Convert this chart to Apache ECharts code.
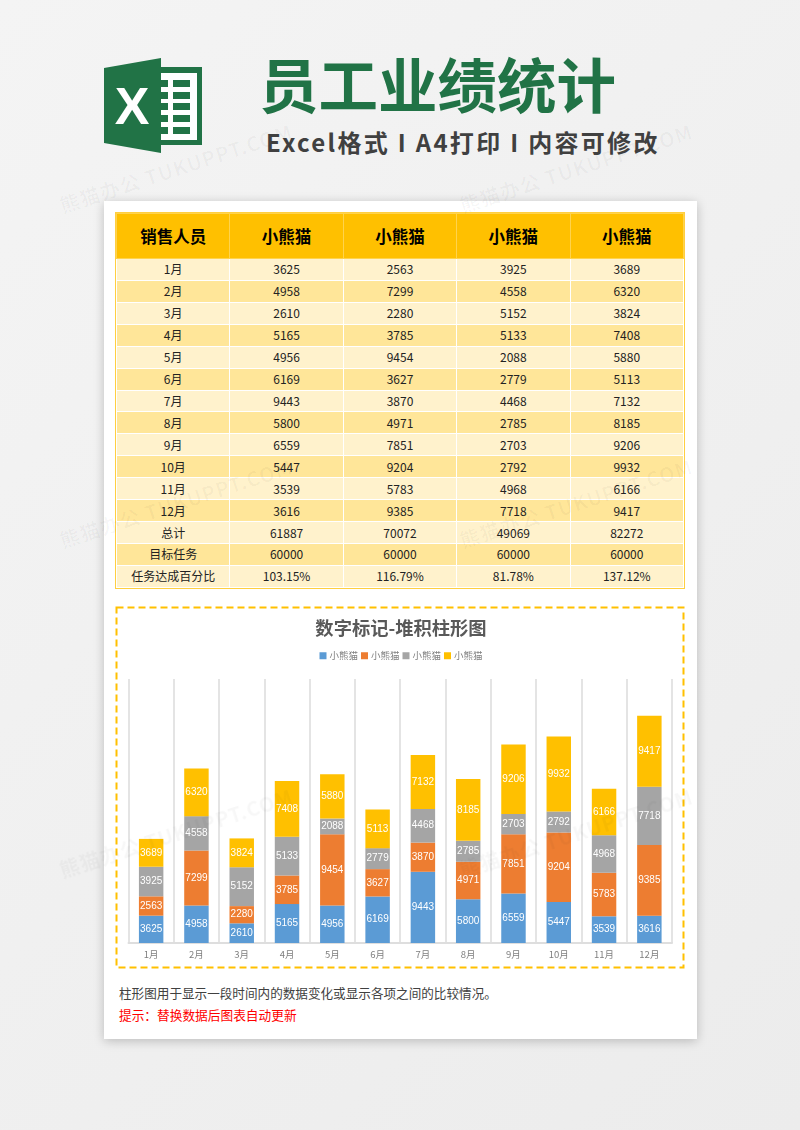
<!DOCTYPE html>
<html>
<head>
<meta charset="utf-8">
<title>员工业绩统计</title>
<script src="https://cdn.jsdelivr.net/npm/echarts@6/dist/echarts.min.js"></script>
<style>
  html, body { margin: 0; padding: 0; }
  body { width: 800px; height: 1130px; position: relative; overflow: hidden;
         background: linear-gradient(135deg, #f4f4f4, #ececec);
         font-family: "Noto Sans CJK SC", "Noto Sans", sans-serif; }
  .abs { position: absolute; white-space: nowrap; }
  #title { left: 259px; top: 40px; font-size: 59.5px; line-height: 84px; font-weight: 700; color: #217346; }
  #subtitle { left: 266px; top: 123px; font-size: 24px; line-height: 38px; font-weight: 700; color: #404040; letter-spacing: 2.3px; }
  #card { left: 104px; top: 201px; width: 593px; height: 838px; background: #fff; box-shadow: 0 2px 10px rgba(0,0,0,.22); }
  #sheet { left: 116px; top: 213px; width: 568px; border-collapse: collapse; table-layout: fixed;
           box-shadow: 0 0 0 1px #ffcf40; }
  #sheet td, #sheet th { padding: 0; text-align: center; border: 1px solid #fff; color: #222; font-size: 12px; font-weight: 400; line-height: 1; overflow: hidden; }
  #sheet th { background: #ffc000; color: #000; font-size: 16.5px; font-weight: 700; height: 44px; border-color: #ffd34d; }
  #sheet tr.light td { background: #fff2cc; height: 20.93px; }
  #sheet tr.dark td { background: #ffe699; height: 20.93px; }
  #chart { left: 106px; top: 600px; width: 590px; height: 375px; }
  #note { left: 119px; top: 983px; font-size: 12.6px; line-height: 19px; color: #404040; }
  #tip { left: 119px; top: 1005px; font-size: 12.7px; line-height: 19px; color: #ff0000; }
  .mark { font-size: 20px; font-weight: 700; letter-spacing: 1px; color: rgba(0,0,0,.03); transform: rotate(-18deg); transform-origin: left center; pointer-events: none; }
</style>
</head>
<body>
<div id="card" class="abs"></div>

<svg class="abs" style="left:0;top:0" width="800" height="200">
  <rect x="161" y="67" width="41" height="78" fill="#217346"/>
  <rect x="161" y="73" width="36" height="67" fill="#fff"/>
  <g fill="#217346">
    <rect x="173" y="80" width="17" height="7"/><rect x="161" y="80" width="7" height="7"/>
    <rect x="173" y="92" width="17" height="7"/><rect x="161" y="92" width="7" height="7"/>
    <rect x="173" y="103" width="17" height="7"/><rect x="161" y="103" width="7" height="7"/>
    <rect x="173" y="115" width="17" height="7"/><rect x="161" y="115" width="7" height="7"/>
    <rect x="173" y="127" width="17" height="7"/><rect x="161" y="127" width="7" height="7"/>
  </g>
  <polygon points="104,68 161,58 161,153 104,143" fill="#217346"/>
  <text x="132" y="124" text-anchor="middle" font-family="Liberation Sans" font-weight="700" font-size="52" fill="#fff">X</text>
</svg>

<div id="title" class="abs">员工业绩统计</div>
<div id="subtitle" class="abs">Excel格式 I A4打印 I 内容可修改</div>

<table id="sheet" class="abs"></table>
<div id="chart" class="abs"></div>
<div id="note" class="abs">柱形图用于显示一段时间内的数据变化或显示各项之间的比较情况。</div>
<div id="tip" class="abs">提示：替换数据后图表自动更新</div>

<script>
const months = ['1月', '2月', '3月', '4月', '5月', '6月', '7月', '8月', '9月', '10月', '11月', '12月'];
const firstCol = [3625, 4958, 2610, 5165, 4956, 6169, 9443, 5800, 6559, 5447, 3539, 3616];
const secondCol = [2563, 7299, 2280, 3785, 9454, 3627, 3870, 4971, 7851, 9204, 5783, 9385];
const thirdCol = [3925, 4558, 5152, 5133, 2088, 2779, 4468, 2785, 2703, 2792, 4968, 7718];
const fourthCol = [3689, 6320, 3824, 7408, 5880, 5113, 7132, 8185, 9206, 9932, 6166, 9417];
const person = '小熊猫';
const totals = [61887, 70072, 49069, 82272];
const targets = [60000, 60000, 60000, 60000];
const percents = ['103.15%', '116.79%', '81.78%', '137.12%'];
const colors = ['#5b9bd5', '#ed7d31', '#a5a5a5', '#ffc000'];

// table
let rows = '<tr><th>销售人员</th>' + ('<th>' + person + '</th>').repeat(4) + '</tr>';
const addRow = function(label, cells, i) {
  rows += '<tr class="' + (i % 2 ? 'dark' : 'light') + '"><td>' + label + '</td>'
    + cells.map(c => '<td>' + c + '</td>').join('') + '</tr>';
};
months.forEach((m, i) => addRow(m, [firstCol[i], secondCol[i], thirdCol[i], fourthCol[i]], i));
addRow('总计', totals, 12);
addRow('目标任务', targets, 13);
addRow('任务达成百分比', percents, 14);
document.getElementById('sheet').innerHTML = rows;

// watermark
[[60, 205], [460, 205], [60, 540], [460, 540], [60, 870], [460, 870]].forEach(p => {
  const d = document.createElement('div');
  d.className = 'abs mark';
  d.style.left = p[0] + 'px';
  d.style.top = (p[1] - 14) + 'px';
  d.textContent = '熊猫办公 TUKUPPT.COM';
  document.body.appendChild(d);
});

// chart
const barSeries = function(name, values, color) {
  return {
    name: name,
    type: 'bar',
    stack: 'total',
    barWidth: '54%',
    data: values,
    itemStyle: { color: color },
    label: { show: true, position: 'inside', color: '#fff', fontSize: 10, fontFamily: 'Liberation Sans' }
  };
};
const myChart = echarts.init(document.getElementById('chart'));
myChart.setOption({
  animation: false,
  title: {
    text: '数字标记-堆积柱形图', left: 'center', top: 14,
    textStyle: { fontSize: 18.3, fontWeight: 700, color: '#595959', fontFamily: 'Noto Sans CJK SC' }
  },
  legend: {
    top: 46, left: 'center', icon: 'rect', itemWidth: 7, itemHeight: 7, itemGap: 3,
    formatter: () => person,
    textStyle: { fontSize: 9.5, color: '#7f7f7f', padding: [0, 0, 0, -2], fontFamily: 'Noto Sans CJK SC' }
  },
  grid: { left: 22.5, right: 24, top: 79, bottom: 32 },
  xAxis: {
    type: 'category',
    data: months,
    axisTick: { show: false },
    axisLine: { lineStyle: { color: '#dedede', width: 2 } },
    axisLabel: { color: '#7f7f7f', fontSize: 9.5, margin: 7, fontFamily: 'Noto Sans CJK SC' },
    splitLine: { show: true, lineStyle: { color: '#e4e4e4', width: 2 } }
  },
  yAxis: { type: 'value', min: 0, max: 35000, interval: 5000, show: false, splitLine: { show: false } },
  series: [
    barSeries(person + '1', firstCol, colors[0]),
    barSeries(person + '2', secondCol, colors[1]),
    barSeries(person + '3', thirdCol, colors[2]),
    barSeries(person + '4', fourthCol, colors[3])
  ],
  graphic: [{
    type: 'rect', silent: true,
    shape: { x: 10.5, y: 7.5, width: 567, height: 360 },
    style: { fill: 'none', stroke: '#ffc000', lineWidth: 2, lineDash: [7, 4] }
  }]
});
</script>
</body>
</html>
